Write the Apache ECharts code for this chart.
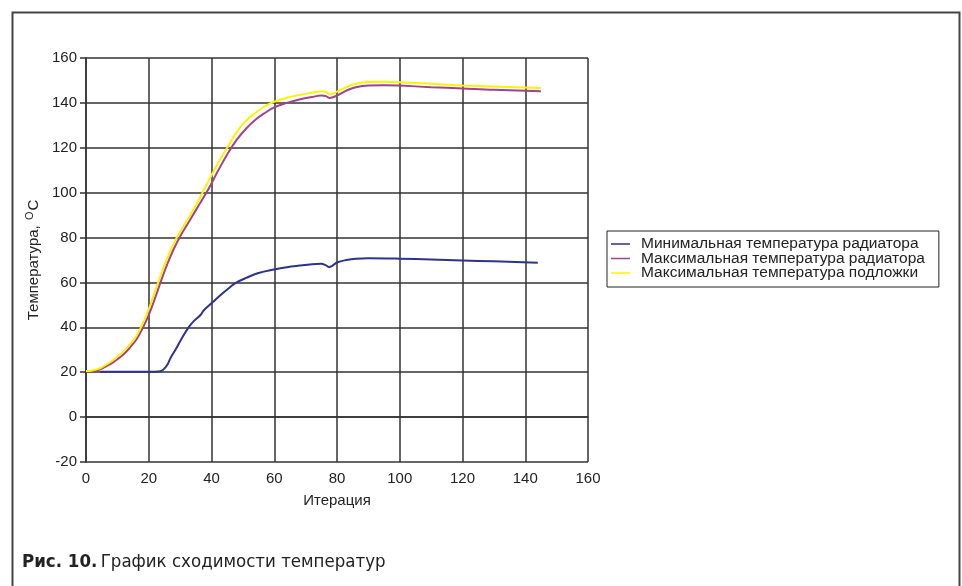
<!DOCTYPE html>
<html>
<head>
<meta charset="utf-8">
<script src="https://cdn.jsdelivr.net/npm/echarts@6/dist/echarts.min.js"></script>
<style>
  html, body { margin: 0; padding: 0; background: #fff; }
  #chart { width: 962px; height: 586px; }
</style>
</head>
<body>
<div id="chart"></div>
<script>
// iterations (x) and temperatures (y)
const minRadX = [4.5, 10, 15, 20, 23, 24.5, 26, 27, 28.6, 30.5, 32.8, 34.5, 36.5, 37.5, 40, 43, 46, 48, 51, 55, 60, 64, 68, 72, 75, 76.5, 77.5, 78.5, 80, 83, 86, 90, 100, 110, 120, 130, 144];
const minRadY = [20.2, 20.2, 20.2, 20.2, 20.3, 21, 23.5, 26.5, 30.2, 35, 40.2, 43, 45.5, 47.5, 50.7, 54.5, 58, 60, 62, 64.2, 65.8, 66.8, 67.5, 68.1, 68.3, 67.6, 66.8, 67.4, 68.9, 70, 70.6, 70.8, 70.6, 70.2, 69.8, 69.4, 68.8];

const maxRadX = [0, 2, 4, 6, 8, 10, 12, 14, 16, 18, 20, 22, 24, 26, 28, 30, 33, 36, 39, 42, 45, 48, 51, 54, 57, 60, 64, 68, 72, 75, 76.5, 77.5, 78.5, 80, 83, 86, 90, 95, 100, 110, 120, 130, 145];
const maxRadY = [20.2, 20.4, 21, 22.3, 23.8, 25.8, 28, 31, 34.5, 39.5, 45.5, 53, 61, 68.5, 75, 80.5, 87.5, 94.5, 101.5, 109.5, 117, 123.5, 128.5, 132.5, 135.5, 138, 140, 141.5, 142.6, 143.3, 143, 142.2, 142.4, 143.3, 145.5, 147, 147.8, 147.9, 147.7, 147, 146.4, 145.8, 145.2];

const maxSubX = [0, 2, 4, 6, 8, 10, 12, 14, 16, 18, 20, 22, 24, 26, 28, 30, 33, 36, 39, 42, 45, 48, 51, 54, 57, 60, 64, 68, 72, 75, 76.5, 77.5, 78.5, 80, 83, 86, 90, 95, 100, 110, 120, 130, 145];
const maxSubY = [20.5, 20.8, 21.5, 23, 24.8, 27, 29.3, 32.5, 36, 41.5, 48, 56, 64, 71, 77.5, 82.5, 89.5, 97, 105, 113, 120, 127, 132, 135.5, 138.5, 140.5, 142.3, 143.5, 144.5, 145.2, 145, 143.8, 144, 145, 147, 148.5, 149.3, 149.4, 149.2, 148.5, 147.8, 147.3, 146.6];

const seriesNames = [
  "Минимальная температура радиатора",
  "Максимальная температура радиатора",
  "Максимальная температура подложки"
];
const seriesColors = ["#2e3192", "#a2418f", "#fff200"];

const zip = (xs, ys) => xs.map((x, i) => [x, ys[i]]);
const FONT = "'Liberation Sans', Arial, sans-serif";
const CAP_FONT = "'DejaVu Sans Condensed', 'DejaVu Sans', sans-serif";

const chart = echarts.init(document.getElementById("chart"));

const makeLine = (name, data, color) => ({
  name: name,
  type: "line",
  data: data,
  smooth: 0.4,
  symbol: "none",
  lineStyle: { color: color, width: 2 },
  itemStyle: { color: color },
});

const option = {
  animation: false,
  backgroundColor: "#fff",
  grid: { left: 86, right: 374, top: 58, bottom: 124 },
  xAxis: {
    type: "value",
    min: 0,
    max: 160,
    interval: 20,
    name: "Итерация",
    nameLocation: "middle",
    nameGap: 31,
    nameTextStyle: { color: "#222", fontSize: 15, fontFamily: FONT },
    axisLine: { show: true, lineStyle: { color: "#333", width: 1.5 } },
    axisTick: { show: false },
    splitLine: { show: true, lineStyle: { color: "#333", width: 1.5 } },
    axisLabel: { color: "#222", fontSize: 15, fontFamily: FONT, margin: 9 },
  },
  yAxis: {
    type: "value",
    min: -20,
    max: 160,
    interval: 20,
    name: "{a|Температура, }{s|O}{a|C}",
    nameLocation: "middle",
    nameGap: 37,
    nameRotate: 90,
    nameTextStyle: {
      rich: {
        a: { color: "#222", fontSize: 15, fontFamily: FONT, lineHeight: 18 },
        s: { color: "#222", fontSize: 11, fontFamily: FONT, padding: [0, 1, 8, 1] },
      },
    },
    axisLine: { show: true, lineStyle: { color: "#333", width: 1.5 } },
    axisTick: { show: true, length: 6, lineStyle: { color: "#333", width: 1.5 } },
    splitLine: { show: true, lineStyle: { color: "#333", width: 1.5 } },
    axisLabel: { color: "#222", fontSize: 15, fontFamily: FONT, margin: 9 },
  },
  legend: {
    orient: "vertical",
    left: 607,
    top: 231,
    padding: [5, 14, 6, 4],
    itemGap: -1.5,
    itemWidth: 19,
    itemHeight: 1.5,
    icon: "rect",
    borderColor: "#222",
    borderWidth: 1,
    backgroundColor: "#fff",
    textStyle: { color: "#222", fontSize: 15.5, fontFamily: FONT, lineHeight: 14, padding: [0, 0, 0, 6] },
    data: seriesNames,
  },
  graphic: [
    {
      type: "rect",
      left: 10,
      top: 10,
      shape: { width: 947, height: 600 },
      style: { fill: "none", stroke: "#444", lineWidth: 2 },
      silent: true,
    },
    {
      type: "text",
      left: 22,
      top: 553,
      style: {
        text: "{b|Рис. 10.} {r|График сходимости температур}",
        rich: {
          b: { fontFamily: CAP_FONT, fontWeight: "bold", fontSize: 18.5, fill: "#222" },
          r: { fontFamily: CAP_FONT, fontSize: 18.5, fill: "#222" },
        },
      },
    },
  ],
  series: [
    makeLine(seriesNames[0], zip(minRadX, minRadY), seriesColors[0]),
    makeLine(seriesNames[1], zip(maxRadX, maxRadY), seriesColors[1]),
    makeLine(seriesNames[2], zip(maxSubX, maxSubY), seriesColors[2]),
  ],
};

chart.setOption(option);
</script>
</body>
</html>
